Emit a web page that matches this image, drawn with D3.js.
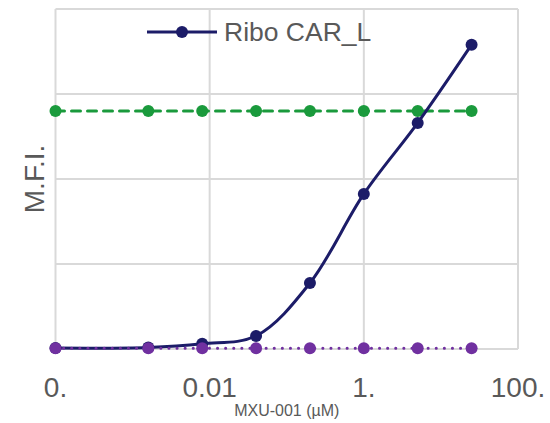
<!DOCTYPE html>
<html>
<head>
<meta charset="utf-8">
<script src="https://cdn.jsdelivr.net/npm/d3@7.9.0/dist/d3.min.js"></script>
<style>
  body { margin: 0; background: #fff; }
  svg { font-family: "Liberation Sans", Arial, sans-serif; }
</style>
</head>
<body>
<svg id="chart" width="550" height="423"></svg>
<script>
// Chart data
const doses = [0.0001, 0.0016, 0.008, 0.04, 0.2, 1, 5, 25];
const riboCar = [60, 90, 310, 770, 3880, 9120, 13300, 17900];
const greenSeries = [14000, 14000, 14000, 14000, 14000, 14000, 14000, 14000];
const purpleSeries = [50, 50, 50, 50, 50, 50, 50, 50];
const xTicks = [0.0001, 0.01, 1, 100];
const xTickLabels = ['0.', '0.01', '1.', '100.'];
const yTicks = [0, 5000, 10000, 15000, 20000];

const svg = d3.select('#chart');
const margin = { left: 55.5, right: 32, top: 9, bottom: 74 };
const width = 550 - margin.left - margin.right;
const height = 423 - margin.top - margin.bottom;

const g = svg.append('g').attr('transform', `translate(${margin.left},${margin.top})`);

const x = d3.scaleLog().domain([0.0001, 100]).range([0, width]);
const y = d3.scaleLinear().domain([0, 20000]).range([height, 0]);

// Gridlines
g.selectAll('.hgrid')
    .data(yTicks)
    .join('line')
    .attr('x1', 0).attr('x2', width)
    .attr('y1', (d) => y(d)).attr('y2', (d) => y(d))
    .attr('stroke', '#d9d9d9').attr('stroke-width', 2);

g.selectAll('.vgrid')
    .data(xTicks)
    .join('line')
    .attr('x1', (d) => x(d)).attr('x2', (d) => x(d))
    .attr('y1', 0).attr('y2', height)
    .attr('stroke', '#d9d9d9').attr('stroke-width', 2);

// Tick labels
g.selectAll('.xlabel')
    .data(xTicks)
    .join('text')
    .attr('x', (d) => x(d))
    .attr('y', height + 48)
    .attr('text-anchor', 'middle')
    .attr('font-size', 28)
    .attr('fill', '#595959')
    .text((d, i) => xTickLabels[i]);

// Axis titles
svg.append('text')
    .attr('x', margin.left + width / 2)
    .attr('y', 416)
    .attr('text-anchor', 'middle')
    .attr('font-size', 16)
    .attr('fill', '#595959')
    .text('MXU-001 (µM)');

svg.append('text')
    .attr('transform', 'translate(44,179) rotate(-90)')
    .attr('text-anchor', 'middle')
    .attr('font-size', 28)
    .attr('fill', '#595959')
    .text('M.F.I.');

// Series
function drawSeries(values, color, dash, curve) {
    let points = doses.map((d, i) => [x(d), y(values[i])]);
    let line = d3.line().curve(curve);
    g.append('path')
        .attr('d', line(points))
        .attr('fill', 'none')
        .attr('stroke', color)
        .attr('stroke-width', 3)
        .attr('stroke-linecap', 'round')
        .attr('stroke-dasharray', dash);
    g.selectAll(null)
        .data(points)
        .join('circle')
        .attr('cx', (p) => p[0])
        .attr('cy', (p) => p[1])
        .attr('r', 6)
        .attr('fill', color);
}

drawSeries(greenSeries, '#1a9a3c', '9,7', d3.curveLinear);
drawSeries(riboCar, '#1c1c68', null, d3.curveCatmullRom.alpha(0.5));
drawSeries(purpleSeries, '#7030a0', '0.1,8', d3.curveLinear);

// Legend
const legend = svg.append('g').attr('transform', 'translate(147,32)');
legend.append('line')
    .attr('x1', 0).attr('x2', 70)
    .attr('stroke', '#1c1c68').attr('stroke-width', 3);
legend.append('circle')
    .attr('cx', 35).attr('r', 6)
    .attr('fill', '#1c1c68');
legend.append('text')
    .attr('x', 77)
    .attr('y', 9)
    .attr('font-size', 26.5)
    .attr('fill', '#595959')
    .text('Ribo CAR_L');
</script>
</body>
</html>
